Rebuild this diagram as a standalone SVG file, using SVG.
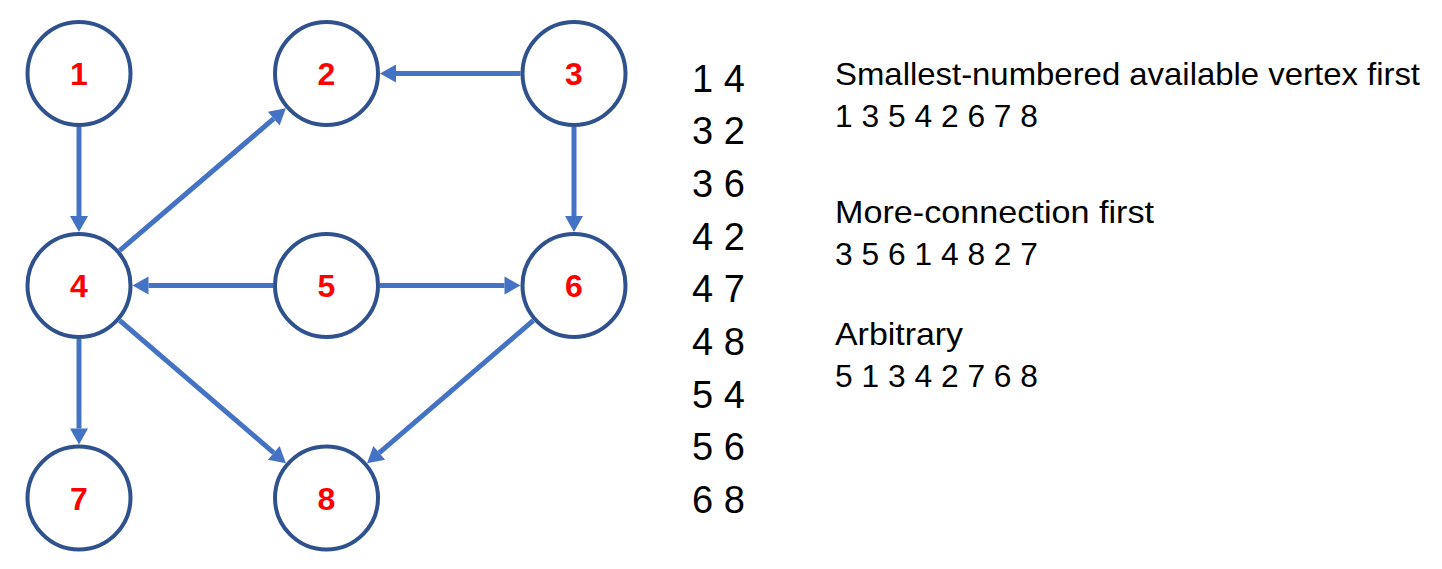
<svg xmlns="http://www.w3.org/2000/svg" width="1442" height="569" viewBox="0 0 1442 569">
<style>
.node circle{fill:#FFFFFF;stroke:#2F528F;stroke-width:4}
.node text{font-family:"Liberation Sans",Arial,sans-serif;font-weight:bold;font-size:32px;fill:#FF0000;text-anchor:middle}
.edge{stroke:#4472C4;stroke-width:5;fill:none;marker-end:url(#arr)}
.txt{font-family:"Liberation Sans",Arial,sans-serif;font-size:32px;fill:#000000}
.el{font-family:"Liberation Sans",Arial,sans-serif;font-size:38px;fill:#000000}
</style>
<defs>
<marker id="arr" markerUnits="userSpaceOnUse" markerWidth="16" markerHeight="18" refX="0" refY="9" orient="auto" overflow="visible">
<path d="M0,0 L16,9 L0,18 z" fill="#4472C4"/>
</marker>
</defs>
<rect width="1442" height="569" fill="#FFFFFF"/>
<g id="connectors">
<line class="edge" x1="79" y1="127" x2="79" y2="216"/>
<line class="edge" x1="520.5" y1="73.5" x2="396" y2="73.5"/>
<line class="edge" x1="574" y1="127" x2="574" y2="216"/>
<line class="edge" x1="273" y1="285.5" x2="148.5" y2="285.5"/>
<line class="edge" x1="380" y1="285.5" x2="504.5" y2="285.5"/>
<line class="edge" x1="79" y1="339" x2="79" y2="428.5"/>
<line class="edge" x1="119.6" y1="250.7" x2="273.75" y2="118.7"/>
<line class="edge" x1="119.6" y1="320.4" x2="273.8" y2="452.8"/>
<line class="edge" x1="533.4" y1="320.4" x2="379.2" y2="452.8"/>
</g>
<g id="node1" class="node"><circle cx="79" cy="73.5" r="51.5"/><text x="79" y="85">1</text></g>
<g id="node2" class="node"><circle cx="326.5" cy="73.5" r="51.5"/><text x="326.5" y="85">2</text></g>
<g id="node3" class="node"><circle cx="574" cy="73.5" r="51.5"/><text x="574" y="85">3</text></g>
<g id="node4" class="node"><circle cx="79" cy="285.5" r="51.5"/><text x="79" y="297">4</text></g>
<g id="node5" class="node"><circle cx="326.5" cy="285.5" r="51.5"/><text x="326.5" y="297">5</text></g>
<g id="node6" class="node"><circle cx="574" cy="285.5" r="51.5"/><text x="574" y="297">6</text></g>
<g id="node7" class="node"><circle cx="79" cy="498" r="51.5"/><text x="79" y="509.5">7</text></g>
<g id="node8" class="node"><circle cx="326.5" cy="498" r="51.5"/><text x="326.5" y="509.5">8</text></g>
<g id="edge-list">
<text class="el" x="692" y="91.5">1 4</text>
<text class="el" x="692" y="144.2">3 2</text>
<text class="el" x="692" y="196.9">3 6</text>
<text class="el" x="692" y="249.6">4 2</text>
<text class="el" x="692" y="302.3">4 7</text>
<text class="el" x="692" y="355">4 8</text>
<text class="el" x="692" y="407.7">5 4</text>
<text class="el" x="692" y="460.4">5 6</text>
<text class="el" x="692" y="513.1">6 8</text>
</g>
<g id="orders">
<text class="txt" x="835" y="85" textLength="585" lengthAdjust="spacingAndGlyphs">Smallest-numbered available vertex first</text>
<text class="txt" x="835" y="126.7" textLength="203" lengthAdjust="spacingAndGlyphs">1 3 5 4 2 6 7 8</text>
<text class="txt" x="835" y="223.3" textLength="319" lengthAdjust="spacingAndGlyphs">More-connection first</text>
<text class="txt" x="835" y="265" textLength="203" lengthAdjust="spacingAndGlyphs">3 5 6 1 4 8 2 7</text>
<text class="txt" x="835" y="345" textLength="128" lengthAdjust="spacingAndGlyphs">Arbitrary</text>
<text class="txt" x="835" y="386.7" textLength="203" lengthAdjust="spacingAndGlyphs">5 1 3 4 2 7 6 8</text>
</g>
</svg>
